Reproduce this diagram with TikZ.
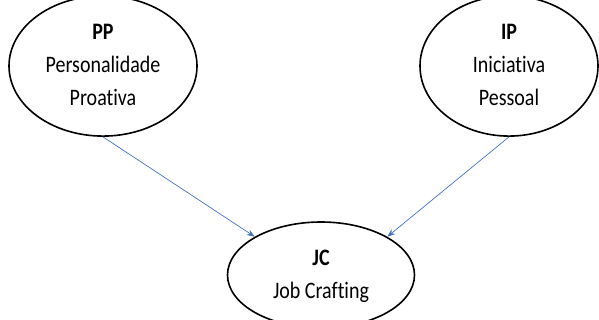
\documentclass[tikz,border=0pt]{standalone}
\usepackage{fontspec}
\setmainfont{Carlito}[Ligatures=NoCommon]
\usepackage{graphicx}
\usepackage{tikz}
\usetikzlibrary{arrows.meta,shapes.geometric}
\definecolor{seta}{rgb}{0.266667, 0.447059, 0.768627}
\newcommand{\rotulo}[1]{\scalebox{1}[1.18]{\begin{tabular}{@{}c@{}}#1\end{tabular}}}
\tikzset{
  construto/.style={ellipse,draw=black,line width=1.6pt,inner sep=0pt,
    font=\fontsize{20}{28}\selectfont},
  liga/.style={draw=seta,line width=0.7pt,-{Stealth[length=8pt,width=6pt]}}
}

\begin{document}
\begin{tikzpicture}[x=1pt,y=-1pt]
      \useasboundingbox (0,0) rectangle (599,320);

      \node [construto,minimum width=188pt,minimum height=104pt] (PP) at (103,66)
            {\rotulo{\textbf{PP}\\Personalidade\\Proativa}};
      \node [construto,minimum width=178pt,minimum height=102pt] (IP) at (509,66)
            {\rotulo{\textbf{IP}\\Iniciativa\\Pessoal}};
      \node [construto,minimum width=187pt,minimum height=106pt] (JC) at (321,275)
            {\rotulo{\textbf{JC}\\Job Crafting}};

      % \draw (PP) -- (JC);
      \draw [liga] (PP.south) -- (JC.150);
      \draw [liga] (IP.south) -- (JC.30);
    \end{tikzpicture}
\end{document}
